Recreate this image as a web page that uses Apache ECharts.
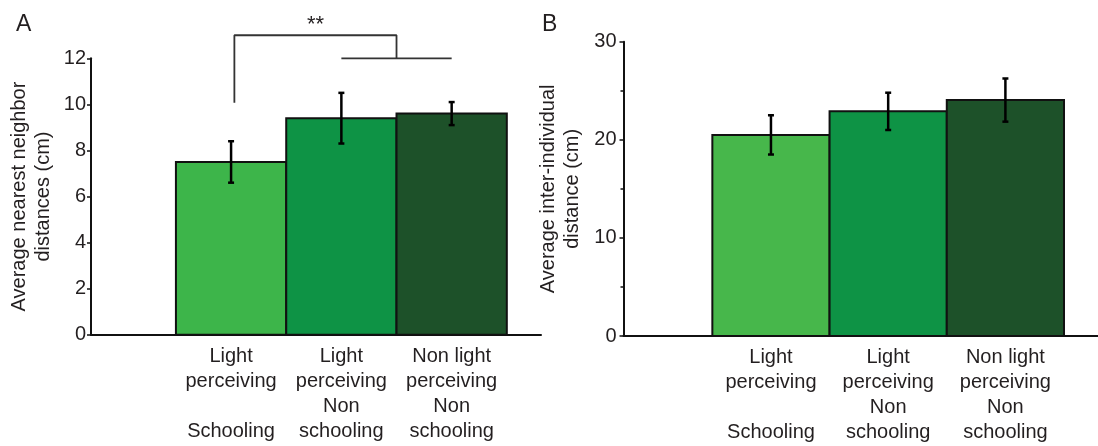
<!DOCTYPE html>
<html>
<head>
<meta charset="utf-8">
<script src="https://cdn.jsdelivr.net/npm/echarts@6/dist/echarts.min.js"></script>
<style>
  html, body { margin: 0; padding: 0; background: #fff; }
  #chart { width: 1098px; height: 446px; }
</style>
</head>
<body>
<div id="chart"></div>
<script>
// Groups (one bar each), positioned at 1, 2, 3 on the x value axis
const groupPositions = [1, 2, 3];
const groupLabels = [
  'Light\nperceiving\n\nSchooling',
  'Light\nperceiving\nNon\nschooling',
  'Non light\nperceiving\nNon\nschooling'
];

// Panel A: average nearest neighbour distance (cm), mean and error
const nnMeans = [7.5, 9.4, 9.6];
const nnErrors = [0.9, 1.1, 0.5];

// Panel B: average inter-individual distance (cm), mean and error
const iidMeans = [20.5, 22.9, 24.05];
const iidErrors = [2.0, 1.9, 2.2];

// Significance bracket in panel A (x position, value)
const sigBracket = [[1.03, 10.07], [1.03, 13.0], [2.5, 13.0], [2.5, 12.0]];
const sigPair = [[2, 12.0], [3, 12.0]];
const sigMark = [[1.765, 13.0, '**']];

const colorsA = ['#3db54a', '#0e9345', '#1d5129'];
const colorsB = ['#47b74b', '#0e9345', '#1d5129'];

const FONT = 'Liberation Sans, Arial, Helvetica, sans-serif';
const INK = '#231f20';

function rows(pos, means, errs) {
  return pos.map((p, i) => [p, means[i], errs[i]]);
}

function barRenderer(colors) {
  return function (params, api) {
    const x = api.value(0), y = api.value(1), e = api.value(2);
    const base = api.coord([x - 0.5, 0]);
    const topRight = api.coord([x + 0.5, y]);
    const hi = api.coord([x, y + e]);
    const lo = api.coord([x, y - e]);
    const cap = 3;
    return {
      type: 'group',
      children: [
        {
          type: 'rect',
          shape: { x: base[0], y: topRight[1], width: topRight[0] - base[0], height: base[1] - topRight[1] },
          style: { fill: colors[params.dataIndex], stroke: '#111', lineWidth: 2 }
        },
        { type: 'line', shape: { x1: hi[0], y1: hi[1], x2: lo[0], y2: lo[1] }, style: { stroke: '#000', lineWidth: 2.5 } },
        { type: 'line', shape: { x1: hi[0] - cap, y1: hi[1], x2: hi[0] + cap, y2: hi[1] }, style: { stroke: '#000', lineWidth: 2.5 } },
        { type: 'line', shape: { x1: lo[0] - cap, y1: lo[1], x2: lo[0] + cap, y2: lo[1] }, style: { stroke: '#000', lineWidth: 2.5 } }
      ]
    };
  };
}

function categoryAxis(gridIndex, min, max) {
  return {
    type: 'value', gridIndex, min, max,
    splitLine: { show: false },
    axisTick: { show: false },
    axisLine: { show: true, onZero: false, lineStyle: { color: '#111', width: 2 } },
    axisLabel: {
      customValues: groupPositions,
      formatter: v => groupLabels[groupPositions.indexOf(v)] || '',
      fontFamily: FONT, fontSize: 20, lineHeight: 25, color: INK, margin: 9, align: 'center'
    }
  };
}

function valueAxis(gridIndex, max, interval, name, opts) {
  return Object.assign({
    type: 'value', gridIndex, min: 0, max, interval,
    name, nameLocation: 'middle', nameRotate: 90, nameGap: 36,
    nameTextStyle: { fontFamily: FONT, fontSize: 20, lineHeight: 24, color: INK },
    splitLine: { show: false },
    axisLine: { show: true, onZero: false, lineStyle: { color: '#111', width: 2 } },
    axisTick: { show: true, inside: false, length: 4, lineStyle: { color: '#111', width: 1.5 } },
    axisLabel: { fontFamily: FONT, fontSize: 20, color: INK, margin: 5 }
  }, opts || {});
}

const chart = echarts.init(document.getElementById('chart'), null, { renderer: 'canvas' });

chart.setOption({
  animation: false,
  backgroundColor: '#fff',
  title: [
    { text: 'A', left: 11, top: 8, textStyle: { fontFamily: FONT, fontSize: 23, fontWeight: 'normal', color: INK } },
    { text: 'B', left: 537, top: 8, textStyle: { fontFamily: FONT, fontSize: 23, fontWeight: 'normal', color: INK } }
  ],
  grid: [
    { left: 91, right: 557, top: 58.3, bottom: 111.3 },
    { left: 623.5, right: 0, top: 41.7, bottom: 110 }
  ],
  xAxis: [
    categoryAxis(0, -0.27, 3.81),
    categoryAxis(1, -0.258, 3.79)
  ],
  yAxis: [
    valueAxis(0, 12, 2, 'Average nearest neighbor\ndistances (cm)'),
    valueAxis(1, 30, 10, 'Average inter-individual\ndistance (cm)', {
      nameGap: 39,
      axisLabel: { fontFamily: FONT, fontSize: 20, color: INK, margin: 7 },
      minorTick: { show: true, splitNumber: 2, length: 3, lineStyle: { color: '#111', width: 1.5 } }
    })
  ],
  series: [
    {
      type: 'custom', xAxisIndex: 0, yAxisIndex: 0, clip: false,
      renderItem: barRenderer(colorsA),
      data: rows(groupPositions, nnMeans, nnErrors)
    },
    {
      type: 'custom', xAxisIndex: 1, yAxisIndex: 1, clip: false,
      renderItem: barRenderer(colorsB),
      data: rows(groupPositions, iidMeans, iidErrors)
    },
    {
      type: 'line', xAxisIndex: 0, yAxisIndex: 0, clip: false, symbol: 'none',
      lineStyle: { color: '#333', width: 1.8 },
      data: sigBracket
    },
    {
      type: 'line', xAxisIndex: 0, yAxisIndex: 0, clip: false, symbol: 'none',
      lineStyle: { color: '#333', width: 1.8 },
      data: sigPair
    },
    {
      type: 'custom', xAxisIndex: 0, yAxisIndex: 0, clip: false,
      renderItem: function (params, api) {
        const p = api.coord([api.value(0), api.value(1)]);
        return {
          type: 'text',
          style: {
            x: p[0], y: p[1] + 1, text: sigMark[params.dataIndex][2],
            font: '22px ' + FONT, fill: INK, align: 'center', verticalAlign: 'bottom'
          }
        };
      },
      data: sigMark.map(d => [d[0], d[1]])
    }
  ]
});
</script>
</body>
</html>
